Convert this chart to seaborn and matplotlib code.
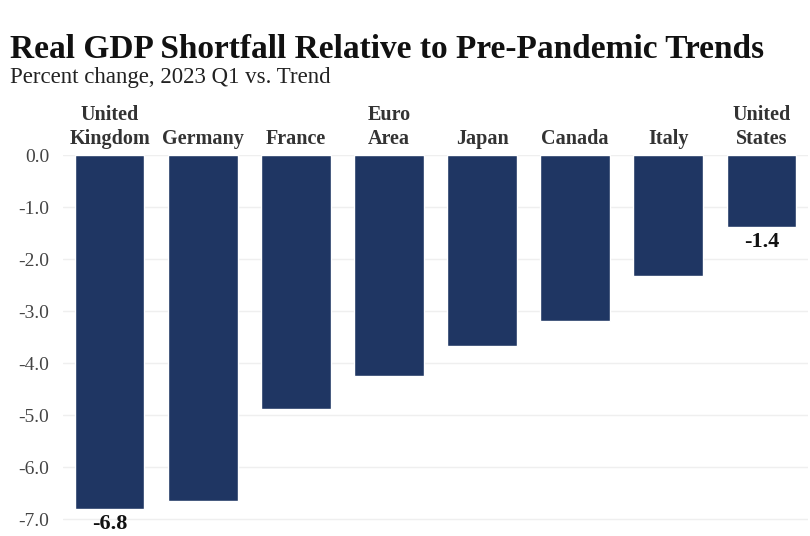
import pandas as pd
import matplotlib.pyplot as plt
import seaborn as sns

countries = ['United\nKingdom', 'Germany', 'France', 'Euro\nArea', 'Japan',
             'Canada', 'Italy', 'United\nStates']
shortfall = [-6.8, -6.65, -4.88, -4.25, -3.68, -3.2, -2.32, -1.38]
labelled = {'United\nKingdom': '-6.8', 'United\nStates': '-1.4'}
yticks = [0, -1, -2, -3, -4, -5, -6, -7]

df = pd.DataFrame({'country': countries, 'value': shortfall})

sns.set_style('white')
plt.rcParams['font.family'] = ['Liberation Serif', 'DejaVu Serif']

fig = plt.figure(figsize=(8.1, 5.36), dpi=100)
ax = fig.add_axes([63 / 810, 1 - 527 / 536, 745 / 810, 372 / 536])

sns.barplot(data=df, x='country', y='value', order=countries, color='#1f3663',
            saturation=1, width=0.75, ax=ax, zorder=2)

ax.set_xlim(-0.5, 7.5)
ax.set_ylim(-7.15, 0)
ax.set_yticks(yticks)
ax.set_yticklabels([f'{t:.1f}' for t in yticks], fontsize=14, color='#444444')
ax.grid(axis='y', color='#efefef', linewidth=1, zorder=0)
ax.set_axisbelow(True)

ax.xaxis.tick_top()
ax.set_xticks(range(len(countries)))
ax.set_xticklabels(countries, fontsize=14.5, fontweight='bold', color='#333333',
                   linespacing=1.3)
ax.tick_params(axis='x', length=0, pad=4)
ax.tick_params(axis='y', length=0, pad=10)
ax.set_xlabel('')
ax.set_ylabel('')
for s in ax.spines.values():
    s.set_visible(False)

# value labels under the first and last bar
for i, c in enumerate(countries):
    if c in labelled:
        ax.text(i, shortfall[i] - 0.1, labelled[c], ha='center', va='top',
                fontsize=16, fontweight='bold', color='#111111')

fig.text(10 / 810, 1 - 58 / 536, 'Real GDP Shortfall Relative to Pre-Pandemic Trends',
         fontsize=24, fontweight='bold', color='#111111', va='baseline')
fig.text(10 / 810, 1 - 83 / 536, 'Percent change, 2023 Q1 vs. Trend',
         fontsize=16.5, color='#222222', va='baseline')

fig.savefig('out.png', dpi=100)
